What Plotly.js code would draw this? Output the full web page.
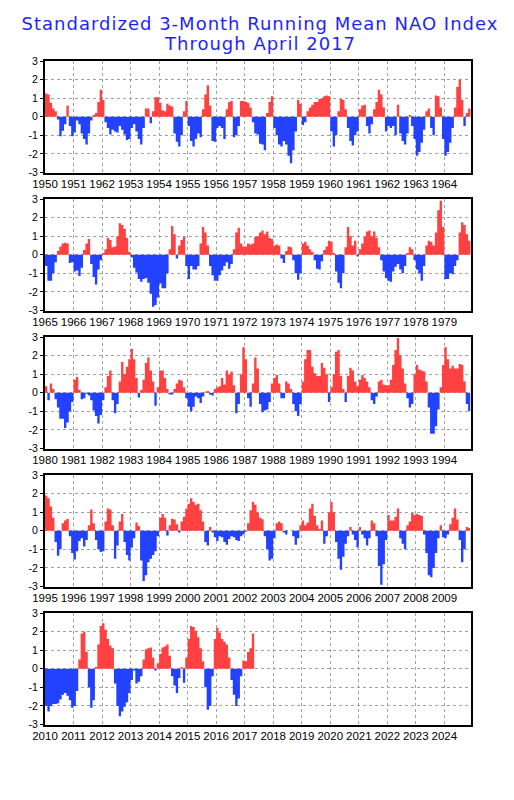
<!DOCTYPE html>
<html><head><meta charset="utf-8">
<script src="https://cdn.plot.ly/plotly-3.0.1.min.js"></script>
<style>
html,body{margin:0;padding:0;background:#fff;}
#chart{width:514px;height:800px;}
#chart .gtitle, #chart .annotation-text{letter-spacing:1px;}
</style>
</head><body><div id="chart"></div>
<script>
// Standardized 3-month running mean NAO index, monthly
const nao1950 = [
 1.25, 1.2, 0.75, 0.45, 0.3, -0.15, -1.05, -0.75, -0.4, 0.6, -0.5, -1.05,
 -0.85, -0.2, -0.4, -0.9, -1.2, -1.5, -0.9, -0.2, 0.1, 0.2, 0.8, 1.45,
 0.9, -0.3, -0.6, -0.95, -0.7, -0.8, -0.85, -0.5, -0.7, -0.95, -1.25, -1.2,
 -0.6, -0.4, -0.8, -1.2, -1.5, -0.6, 0.45, 0.45, -0.35, 0.3, 1.05, 1.05,
 0.75, 0.35, 0.3, 0.7, 0.6, 0.55, -0.9, -1.35, -1.6, -1.0, 0.3, 0.85,
 -0.5, -1.3, -1.6, -1.2, -0.9, -1.1, 0.4, 1.2, 1.7, 0.6, -1.3, -1.35,
 -0.6, -0.5, -0.6, -1.2, 0.4, 0.8, 0.85, -1.1, -1.0, -0.5, 0.85, 0.85,
 0.8, 0.75, 0.5, -0.3, -0.9, -0.95, -1.45, -1.5, -1.8, 0.2, 0.8, 1.1,
 -0.6, -1.0, -1.5, -1.6, -1.3, -1.5, -2.1, -2.5, -1.8, -0.8, 0.9, 0.7,
 -0.45, -0.3, 0.3, 0.5, 0.65, 0.8, 0.8, 0.95, 1.0, 1.1, 1.15, 1.1,
 -0.8, -1.6, -1.0, 0.3, 0.95, 0.9, 0.4, -0.6, -1.3, -1.55, -1.0, -0.8,
 0.4, 0.6, 0.65, -0.5, -0.9, -0.4, 0.4, 0.8, 1.45, 1.2, 0.5, -0.8,
 -0.5, -0.6, -0.5, -1.0, 0.65, -0.9, -1.3, -1.5, -0.9, 0.1, -0.5, -1.2,
 -2.1, -1.9, -1.4, -0.7, 0.3, 0.45, -0.6, -1.0, 1.15, 1.1, 0.5, -1.2,
 -2.1, -1.9, -1.4, -0.6, 0.5, 1.6, 2.0, 0.9, -0.5, 0.2, 0.45, 0.4
];
const nao1965 = [
 -0.6, -1.4, -1.4, -1.0, -0.4, 0.2, 0.45, 0.6, 0.65, 0.6, -0.45, -0.4,
 -0.9, -0.85, -1.15, -0.7, 0.25, 0.6, 0.85, -0.5, -1.2, -1.6, -0.8, -0.3,
 0.1, 0.3, 0.9, 0.8, 0.4, 0.45, 1.0, 1.7, 1.6, 1.4, 0.9, 0.15,
 -0.15, -0.7, -0.95, -1.3, -1.45, -1.3, -1.25, -1.5, -2.1, -2.8, -2.7, -2.3,
 -1.55, -1.8, -1.8, -1.0, 0.3, 1.55, 1.1, -0.2, 0.5, 0.8, 0.95, -0.6,
 -1.3, -0.6, -0.8, -0.8, -0.6, 0.6, 1.5, 1.2, 0.5, -0.6, -1.1, -1.4,
 -1.4, -1.1, -0.85, -0.6, -0.4, -0.75, -0.5, 0.3, 1.2, 1.45, 0.6, 0.45,
 0.45, 0.6, 0.55, 0.6, 0.95, 1.0, 1.2, 1.3, 1.1, 1.25, 0.9, 0.85,
 0.5, 0.55, 0.5, -0.2, -0.45, 0.2, 0.45, 0.4, -0.3, -1.0, -1.35, -1.0,
 0.6, 0.7, 0.5, 0.3, 0.15, -0.3, -0.75, -0.8, -0.35, 0.25, 0.45, 0.75,
 0.7, 0.1, -0.9, -1.5, -1.8, -1.0, 0.4, 1.5, 1.0, 0.5, 0.75, -0.1,
 0.3, 0.6, 0.95, 1.25, 1.3, 1.0, 1.25, 0.9, 0.4, -0.3, -0.9, -1.25,
 -1.4, -1.45, -0.9, -0.65, -0.5, -0.8, -1.0, -0.6, 0.1, 0.4, 0.3, -0.3,
 -0.8, -1.0, -1.4, -0.6, 0.5, 0.75, 0.7, 0.5, 1.2, 2.4, 2.9, 1.5,
 -1.3, -1.3, -1.0, -1.05, -0.6, -0.3, 1.2, 1.75, 1.6, 1.1, 0.75, 0.7
];
const nao1980 = [
 0.35, -0.4, 0.5, 0.2, -0.35, -0.8, -1.4, -1.4, -1.9, -1.6, -1.0, -0.5,
 0.7, 0.85, 0.15, -0.35, -0.3, -0.05, -0.15, -0.4, -0.95, -1.25, -1.65, -1.2,
 -0.4, 0.3, 0.9, 1.2, -0.4, -1.1, -0.6, 0.6, 1.65, 1.0, 1.4, 1.8,
 2.35, 1.8, 0.8, -0.25, 0.15, 0.7, 1.6, 1.9, 1.2, 0.6, -0.7, 0.3,
 1.2, 1.2, 0.8, 0.2, -0.1, -0.1, 0.2, 0.5, 0.7, 0.65, 0.3, -0.3,
 -0.75, -1.0, -0.75, -0.2, -0.3, -0.55, -0.2, 0.05, 0.1, -0.1, -0.15, 0.2,
 0.3, 0.35, 0.8, 0.45, 1.2, 1.0, 1.15, 0.4, -1.1, -0.6, 1.0, 2.45,
 1.8, -0.3, -0.75, 0.5, 1.9, 1.3, -0.6, -1.05, -0.95, -0.9, -0.5, 0.5,
 0.8, 0.95, 0.5, -0.3, -0.3, 0.6, 0.5, 0.2, -0.6, -1.0, -1.25, -0.6,
 0.6, 1.8, 2.3, 2.3, 1.4, 1.05, 0.9, 0.9, 1.6, 1.35, 1.0, -0.5,
 0.3, 1.0, 2.2, 2.3, 0.9, 0.2, -0.5, 0.9, 1.35, 1.2, 0.6, 0.35,
 0.7, 0.95, 0.8, 0.6, 0.3, -0.4, -0.6, -0.2, 0.6, 0.7, 0.45, 0.4,
 0.4, 0.7, 1.5, 2.3, 2.95, 2.0, 1.3, 0.5, -0.3, -0.8, -0.6, 1.0,
 1.5, 1.25, 1.2, 1.15, 0.6, -0.8, -2.2, -2.2, -1.8, -0.9, 0.3, 1.5,
 2.45, 1.8, 1.3, 1.45, 1.3, 1.3, 1.55, 1.5, 0.6, -0.6, -1.0, 0.9
];
const nao1995 = [
 1.9, 1.75, 1.3, 0.7, -0.6, -1.35, -1.0, 0.4, 0.55, 0.65, -0.3, -1.2,
 -1.55, -1.1, -0.55, -0.4, -0.85, -0.5, 0.3, 1.15, 0.4, -0.5, -1.0, -1.15,
 -1.1, 0.5, 1.2, 1.15, 0.3, -1.5, -0.8, 0.5, 0.9, -0.6, -1.3, -1.6,
 -0.9, -0.4, 0.45, 0.25, -1.6, -2.7, -2.4, -1.7, -1.5, -1.3, -1.1, -0.3,
 0.7, 0.9, 0.7, -0.25, 0.3, 0.65, 0.6, 0.35, -0.1, 0.5, 0.75, 1.2,
 1.45, 1.75, 1.55, 1.4, 1.45, 1.1, 0.5, -0.6, -0.8, 0.2, -0.1, -0.35,
 -0.55, -0.3, -0.35, -0.6, -0.75, -0.45, -0.3, -0.35, -0.5, -0.55, -0.3, -0.2,
 -0.05, 0.4, 1.1, 1.55, 1.4, 1.0, 0.7, 0.62, -0.3, -1.0, -1.6, -1.5,
 -0.4, 0.4, 0.5, 0.4, -0.1, -0.2, 0.0, 0.0, -0.3, -0.75, -0.4, 0.3,
 0.55, 0.3, 0.45, 1.2, 1.45, 0.8, 0.3, 0.1, 0.55, -0.7, -0.3, 1.0,
 1.55, 1.0, -0.6, -1.5, -2.1, -1.4, -0.7, -0.3, 0.2, -0.2, -0.5, -0.9,
 0.2, -0.2, -0.4, -0.8, -0.4, 0.55, 0.4, -0.3, -1.9, -2.9, -1.8, -0.5,
 0.85, 0.55, 0.55, 0.75, 1.2, -0.4, -0.7, -1.0, 0.3, 0.5, 0.95, 0.85,
 0.9, 0.85, 0.8, -0.2, -1.2, -2.4, -2.5, -2.0, -1.2, -0.4, 0.3, -0.35,
 -0.4, -0.2, 0.35, 0.7, 1.2, 0.6, -0.5, -1.7, -1.0, 0.2, 0.15, -1.6
];
const nao2010 = [
 -2.0, -2.3, -2.0, -1.9, -1.9, -1.85, -1.65, -1.4, -1.3, -1.45, -1.7, -2.1,
 -2.0, -1.2, 0.5, 1.9, 2.0, 0.9, -1.0, -2.1, -1.7, 0.1, 1.3, 2.3,
 2.45, 2.1, 1.6, 1.25, 1.1, -0.8, -2.0, -2.55, -2.3, -2.05, -1.8, -1.3,
 -0.6, -0.1, -0.8, -0.7, -0.4, 0.5, 1.05, 1.1, 1.15, 0.6, -0.1, 0.3,
 0.8, 1.15, 1.2, 1.3, 0.7, -0.4, -0.9, -1.3, -0.5, 0.1, -0.75, 0.6,
 1.6, 2.3, 2.25, 2.05, 1.7, 1.1, 0.4, -1.0, -2.2, -2.0, -0.4, 1.6,
 2.2, 1.95, 1.6, 1.45, 1.3, 0.6, -0.6, -1.4, -2.0, -1.6, -0.4, 0.45,
 0.4, 0.9, 1.1, 1.9
];

const ticks1950 = ['1950','1951','1962','1953','1954','1955','1956','1957','1958','1959','1960','1961','1962','1963','1964'];
const ticks1965 = ['1965','1966','1967','1968','1969','1970','1971','1972','1973','1974','1975','1976','1977','1978','1979'];
const ticks1980 = ['1980','1981','1982','1983','1984','1985','1986','1987','1988','1989','1990','1991','1992','1993','1994'];
const ticks1995 = ['1995','1996','1997','1998','1999','2000','2001','2002','2003','2004','2005','2006','2007','2008','2009'];
const ticks2010 = ['2010','2011','2012','2013','2014','2015','2016','2017','2018','2019','2020','2021','2022','2023','2024'];
const yTickVals = [-3, -2, -1, 0, 1, 2, 3];
const yTickText = ['-3', '-2', '-1', '0', '1', '2', '3'];

const panels = [
  {values: nao1950, labels: ticks1950},
  {values: nao1965, labels: ticks1965},
  {values: nao1980, labels: ticks1980},
  {values: nao1995, labels: ticks1995},
  {values: nao2010, labels: ticks2010}
];

const RED = '#ff4141', BLUE = '#2242ff', TITLE = '#1f1fff';
const W = 514, H = 800;
const plotLeft = 45, plotRight = 470.5;
const panelTops = [61, 199, 337, 475, 613];
const panelHeight = 111.5;

const traces = [];
const layout = {
  width: W, height: H,
  margin: {l: 0, r: 0, t: 0, b: 0},
  paper_bgcolor: '#ffffff', plot_bgcolor: '#ffffff',
  showlegend: false,
  font: {family: 'Liberation Sans, Arial, sans-serif', color: '#000'},
  title: {
    text: 'Standardized 3-Month Running Mean NAO Index',
    x: 260 / W, xanchor: 'center', xref: 'paper',
    y: 1 - 23.5 / H, yanchor: 'middle', yref: 'container',
    font: {family: 'DejaVu Sans', size: 18, color: TITLE}
  },
  annotations: [{
    text: 'Through April 2017', showarrow: false,
    xref: 'paper', yref: 'paper', x: 260 / W, y: 1 - 43.5 / H,
    xanchor: 'center', yanchor: 'middle',
    font: {family: 'DejaVu Sans', size: 18, color: TITLE}
  }]
};

panels.forEach((p, i) => {
  const n = i + 1;
  const xa = n === 1 ? 'x' : 'x' + n;
  const ya = n === 1 ? 'y' : 'y' + n;
  const len = p.values.length;
  // month k is drawn as a step spanning [k, k+1]
  const xs = p.values.map((v, k) => k).concat([len]);
  const pos = p.values.map(v => Math.max(v, 0));
  const neg = p.values.map(v => Math.min(v, 0));
  pos.push(pos[len - 1]);
  neg.push(neg[len - 1]);
  [[pos, RED], [neg, BLUE]].forEach(([ys, col]) => {
    traces.push({
      type: 'scatter', mode: 'lines',
      x: xs, y: ys,
      line: {shape: 'hv', width: 0, color: col},
      fill: 'tozeroy', fillcolor: col,
      xaxis: xa, yaxis: ya,
      hoverinfo: 'skip'
    });
  });
  const top = panelTops[i], bottom = top + panelHeight;
  layout['xaxis' + (n === 1 ? '' : n)] = {
    domain: [plotLeft / W, plotRight / W],
    anchor: ya,
    range: [0, 179],
    tickmode: 'array',
    tickvals: p.labels.map((l, j) => j * 12),
    ticktext: p.labels,
    tickangle: 0,
    showgrid: true, gridcolor: '#a0a0a0', griddash: 'dot', gridwidth: 1,
    zeroline: false,
    showline: true, mirror: true, linecolor: '#000', linewidth: 2,
    ticks: '',
    tickfont: {family: 'Liberation Sans, Arial, sans-serif', size: 11.5, color: '#000'},
    fixedrange: true
  };
  layout['yaxis' + (n === 1 ? '' : n)] = {
    domain: [1 - bottom / H, 1 - top / H],
    anchor: xa,
    range: [-3, 3],
    tickmode: 'array',
    tickvals: yTickVals, ticktext: yTickText,
    showgrid: true, gridcolor: '#a0a0a0', griddash: 'dot', gridwidth: 1,
    zeroline: false,
    showline: true, mirror: true, linecolor: '#000', linewidth: 2,
    ticks: 'outside', ticklen: 3, tickwidth: 1, tickcolor: '#000',
    tickfont: {family: 'Liberation Sans, Arial, sans-serif', size: 10.5, color: '#000'},
    fixedrange: true
  };
});

Plotly.newPlot('chart', traces, layout, {displayModeBar: false, staticPlot: true});
</script>
</body></html>
